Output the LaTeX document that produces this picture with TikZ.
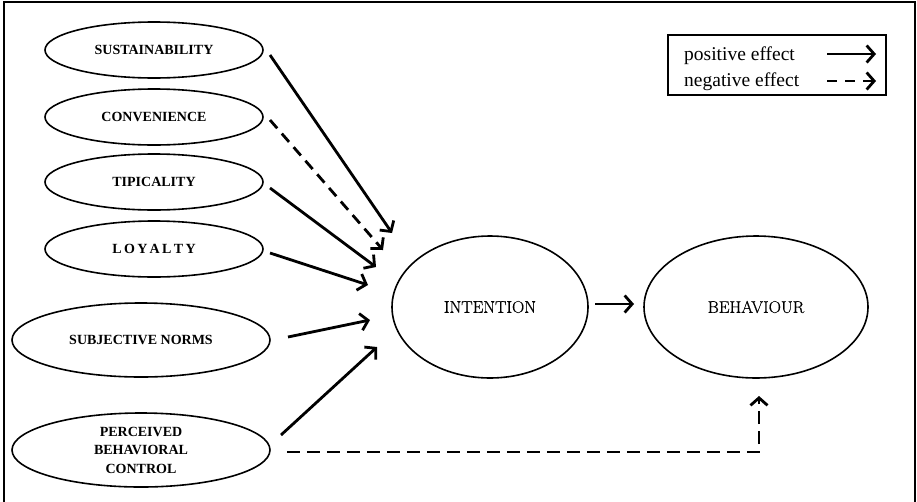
\documentclass[tikz,border=0pt]{standalone}
\usepackage{fontspec}
\setmainfont{Latin Modern Roman}
\newfontfamily\timesfont{Liberation Serif}
\newfontfamily\mainlabelfont[FakeBold=0.6]{Latin Modern Roman}
\usetikzlibrary{shapes.geometric,arrows.meta}
\tikzset{
  oval/.style={ellipse, draw, line width=1.6pt, inner sep=0pt, align=center},
  smalloval/.style={oval, minimum width=218pt, minimum height=56pt, font=\timesfont\bfseries\fontsize{14}{16}\selectfont},
  bigoval/.style={oval, minimum width=258pt, minimum height=74pt, font=\timesfont\bfseries\fontsize{14}{18.5}\selectfont},
  mainoval/.style={oval, minimum height=142pt, font=\mainlabelfont\fontsize{17}{19}\selectfont},
  posarrow/.style={line width=2.8pt, -{Straight Barb[length=7.5pt,width=17pt]}},
  negarrow/.style={posarrow, dash pattern=on 11pt off 7pt},
  legtext/.style={anchor=base west, font=\timesfont\fontsize{19.5}{21}\selectfont, inner sep=0pt},
}
\begin{document}
\begin{tikzpicture}[x=1pt,y=-1pt]
\useasboundingbox (0,0) rectangle (917,501);
\begin{scope}
\clip (0,0) rectangle (917,501);
\draw[line width=1.8pt] (4,2) rectangle (915,510);
\end{scope}
% left ovals
\node[smalloval] (sus) at (154,50) {SUSTAINABILITY};
\node[smalloval] (con) at (154,117) {CONVENIENCE};
\node[smalloval] (tip) at (154,182) {TIPICALITY};
\node[smalloval] (loy) at (154,249) {L\,O\,Y\,A\,L\,T\,Y};
\node[bigoval] (sub) at (141,340) {SUBJECTIVE NORMS};
\node[bigoval] (pbc) at (141,450) {PERCEIVED\\BEHAVIORAL\\CONTROL};
% main ovals
\node[mainoval, minimum width=196pt] (int) at (490,307) {INTENTION};
\node[mainoval, minimum width=224pt] (beh) at (756,307) {BEHAVIOUR};
% connector endpoints
\coordinate (s1) at (270,55);  \coordinate (t1) at (392,233);
\coordinate (s2) at (270,120); \coordinate (t2) at (383,250);
\coordinate (s3) at (270,188); \coordinate (t3) at (376,267);
\coordinate (s4) at (270,253); \coordinate (t4) at (368,285);
\coordinate (s5) at (288,337); \coordinate (t5) at (370,320);
\coordinate (s6) at (281,435); \coordinate (t6) at (377,347);
\coordinate (s7) at (595,304); \coordinate (t7) at (634,304);
\coordinate (s8) at (287,452); \coordinate (c8) at (759,452); \coordinate (t8) at (759,396);
\draw[posarrow] (s1) -- (t1);
\draw[negarrow] (s2) -- (t2);
\draw[posarrow] (s3) -- (t3);
\draw[posarrow] (s4) -- (t4);
\draw[posarrow] (s5) -- (t5);
\draw[posarrow] (s6) -- (t6);
\draw[posarrow] (s7) -- (t7);
\draw[negarrow, dash pattern=on 13pt off 7pt] (s8) -- (c8) -- (t8);
% legend
\draw[line width=1.2pt] (668,35) rectangle (886,95);
\node[legtext] (lp) at (684,60) {positive effect};
\node[legtext] (ln) at (684,86) {negative effect};
\coordinate (lp1) at (827,54); \coordinate (lp2) at (876,54);
\coordinate (ln1) at (827,81); \coordinate (ln2) at (876,81);
\draw[posarrow] (lp1) -- (lp2);
\draw[posarrow, dash pattern=on 10pt off 8pt] (ln1) -- (ln2);
\end{tikzpicture}
\end{document}
